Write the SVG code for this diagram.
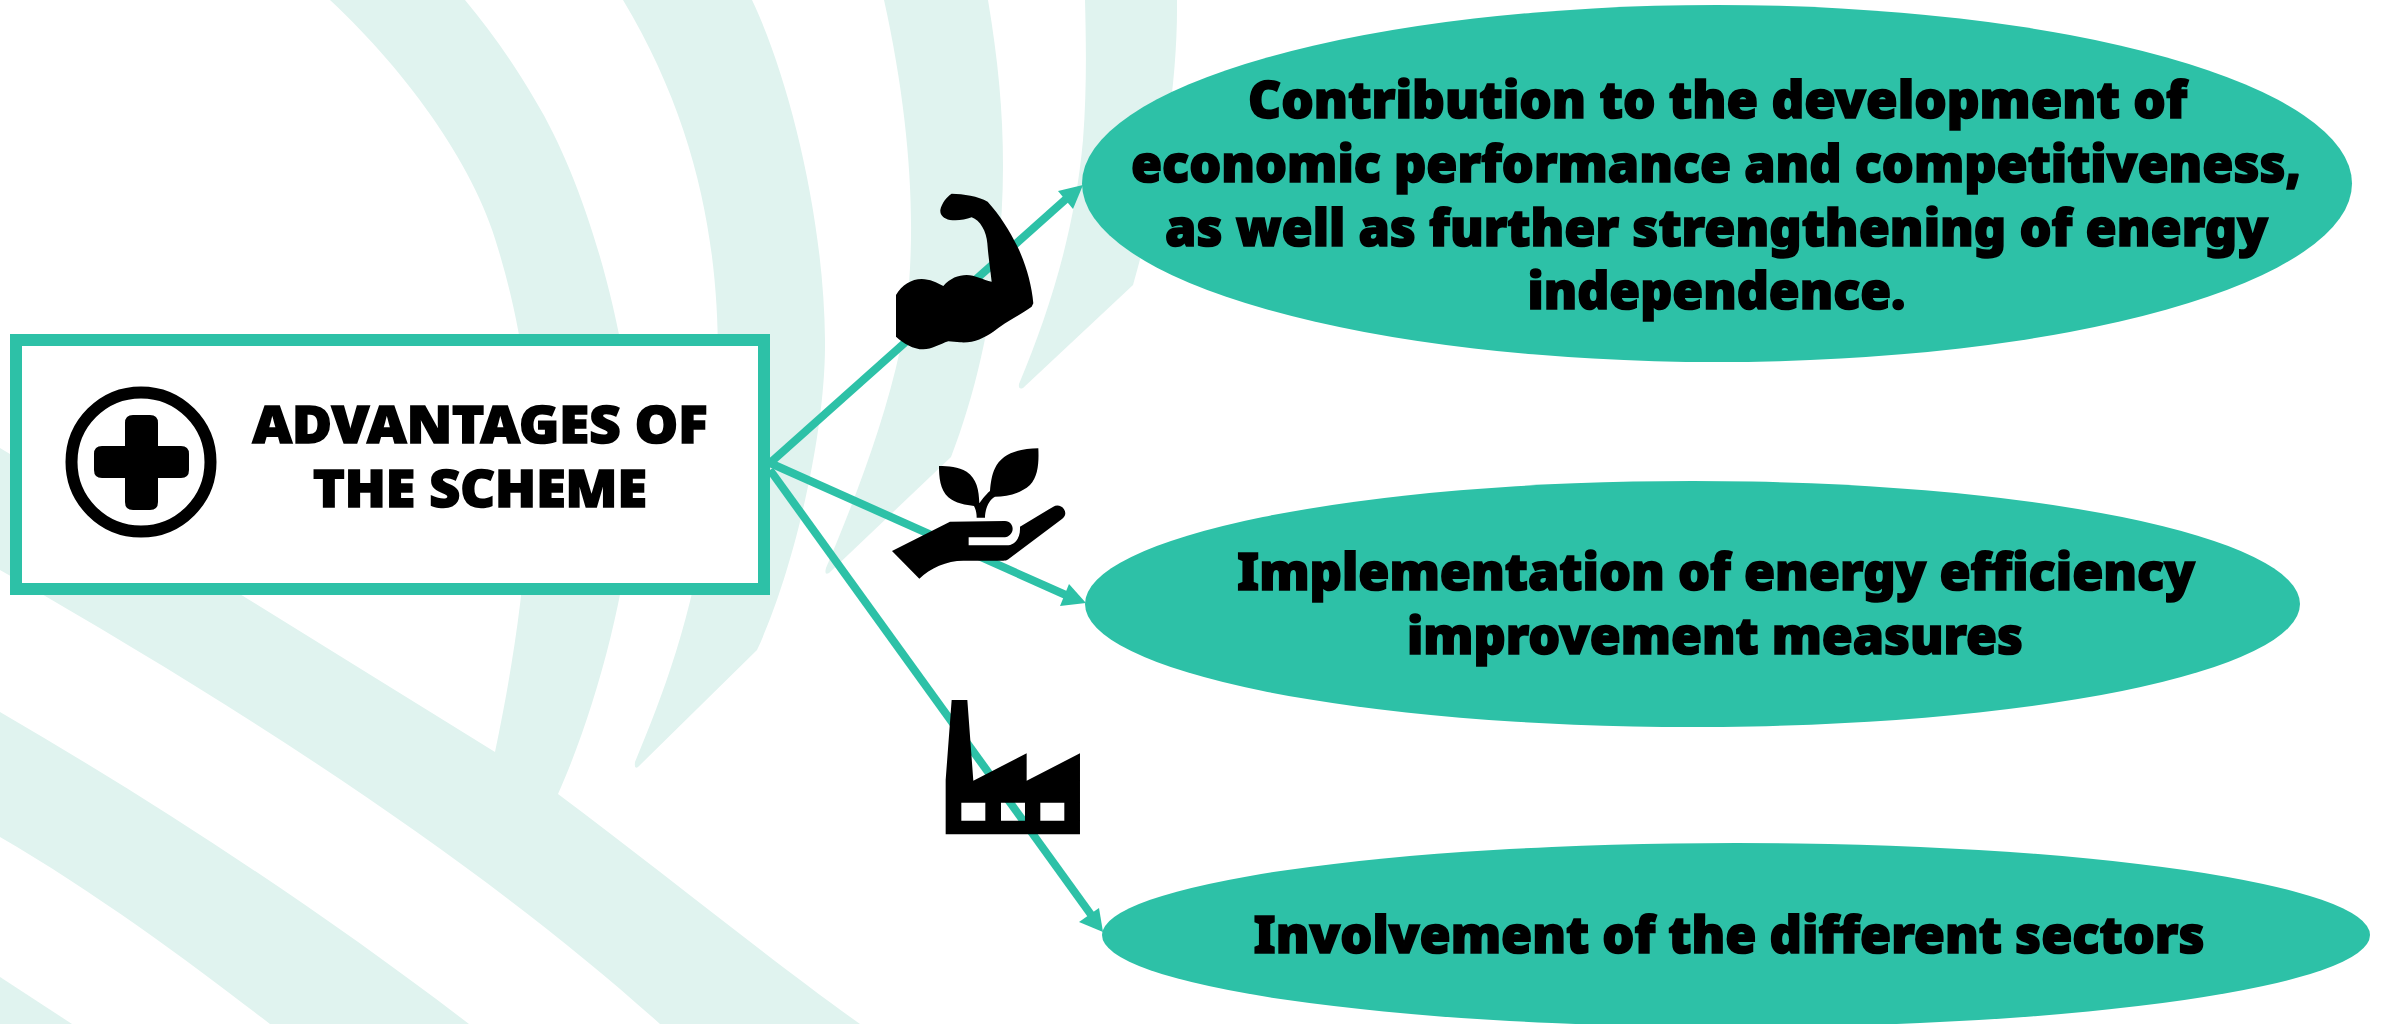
<svg xmlns="http://www.w3.org/2000/svg" width="2384" height="1024" viewBox="0 0 2384 1024">
<style>
.bg{fill:#e0f3ef}
.oval{fill:#2dc1a7}
.link{stroke:#2dc1a7;stroke-width:8;fill:none}
.head{fill:#2dc1a7}
.t{font-family:"Noto Sans","Open Sans","Liberation Sans",sans-serif;font-weight:900;font-size:52px;fill:#000;stroke:#000;stroke-width:1.6;text-anchor:middle}
.icon{fill:#000;fill-rule:evenodd}
</style>
<rect width="2384" height="1024" fill="#fff"/>
<g id="background">
<path class="bg" d="M0 448 C170 550 330 650 495 752 C510 680 526 590 530 480 C533 420 525 340 500 255 C478 170 410 75 330 0 L465 0 C490 30 515 65 535 100 C590 190 632 350 634 460 C636 560 600 700 558 794 C660 870 770 960 860 1024 L660 1024 C500 880 280 730 0 570 Z"/>
<path class="bg" d="M0 712 C160 805 320 910 469 1024 L270 1024 C200 970 100 895 0 837 Z"/>
<path class="bg" d="M0 977 L72 1024 L0 1024 Z"/>
<path class="bg" d="M623 0 L752 0 C790 80 824 220 825 340 C826 440 790 580 757 650 L638 767 Q634 770 635 762 C665 690 700 600 712 470 C725 330 725 170 623 0 Z"/>
<path class="bg" d="M884 0 L988 0 C998 60 1003 110 1003 167 C1003 260 985 370 951 457 L829 573 Q824 576 826 568 C855 500 885 420 900 350 C918 260 915 140 884 0 Z"/>
<path class="bg" d="M1085 0 L1177 0 C1178 90 1160 190 1133 285 L1023 388 Q1018 390 1019 384 C1050 310 1075 230 1083 140 C1087 90 1086 40 1085 0 Z"/>
</g>
<g id="connectors">
<path class="link" d="M770 463 L1066 199"/>
<path class="head" d="M1083 185 L1058 191 L1073 209 Z"/>
<path class="link" d="M770 463 L1068 596"/>
<path class="head" d="M1086 603 L1069 584 L1060 606 Z"/>
<path class="link" d="M770 470 L1092 916"/>
<path class="head" d="M1103 932 L1079 922 L1099 908 Z"/>
</g>
<g id="advantages">
<path fill="#fff" d="M16 340H764V589H16Z"/>
<path fill="#2dc1a7" fill-rule="evenodd" d="M10 334H770V595H10Z M22 346V583H758V346Z"/>
<circle cx="141" cy="462" r="69.5" fill="#fff" stroke="#000" stroke-width="12"/>
<path class="icon" d="M133 415H150Q158 415 158 423V446H181Q189 446 189 454V470Q189 478 181 478H158V502Q158 510 150 510H133Q125 510 125 502V478H102Q94 478 94 470V454Q94 446 102 446H125V423Q125 415 133 415Z"/>
<text class="t" x="480" y="443" textLength="455" lengthAdjust="spacingAndGlyphs">ADVANTAGES OF</text>
<text class="t" x="480" y="507" textLength="334" lengthAdjust="spacingAndGlyphs">THE SCHEME</text>
</g>
<g id="icon-muscle" transform="translate(860 160) scale(.3333)">
<path class="icon" d="M108 405 C125 375 155 357 185 357 C210 357 230 368 250 378 C270 355 295 345 320 345 C345 345 370 360 395 365 C390 320 385 290 382 250 C380 215 360 180 335 172 C315 180 290 183 270 180 C250 175 240 165 241 150 C245 130 260 110 275 101 C310 102 355 108 383 125 C420 165 450 215 470 255 C495 305 515 370 520 430 L515 440 C480 465 430 490 400 515 C370 535 340 550 300 547 L265 544 C240 552 215 568 190 568 C160 568 130 550 108 530 Z"/>
</g>
<g id="icon-plant" transform="translate(860 420) scale(.3333)">
<path class="icon" d="M96 393 L270 305 L435 303 C450 303 458 315 458 326 C458 340 447 350 435 352 L326 352 L326 376 L440 376 C465 376 482 355 480 320 L580 260 C590 254 605 256 612 268 C620 280 615 290 605 298 L445 418 C440 422 435 422 430 422 L310 422 C260 422 210 445 178 476 Z"/>
<path class="icon" d="M535 85 C480 85 425 100 405 145 C395 165 392 190 390 213 C375 225 362 245 358 250 C357 210 350 175 320 155 C295 140 265 138 237 138 C237 170 240 210 265 232 C285 250 320 256 342 258 C348 270 350 280 350 293 L375 293 C375 270 385 240 405 230 C440 230 480 222 510 195 C535 170 537 125 535 85 Z"/>
</g>
<g id="icon-factory" transform="translate(920 680) scale(.3333)">
<path class="icon" d="M95 60 L142 60 L160 302 L320 220 L320 302 L480 220 L480 463 L77 463 L77 300 Z M124 368V422H196V368Z M243 368V422H315V368Z M361 368V422H433V368Z"/>
</g>
<g id="benefit-competitiveness">
<ellipse class="oval" cx="1717" cy="183.5" rx="635" ry="178.5"/>
<text class="t" x="1717.5" y="118" textLength="939" lengthAdjust="spacingAndGlyphs">Contribution to the development of</text>
<text class="t" x="1716" y="182" textLength="1170" lengthAdjust="spacingAndGlyphs">economic performance and competitiveness,</text>
<text class="t" x="1716.5" y="246" textLength="1103" lengthAdjust="spacingAndGlyphs">as well as further strengthening of energy</text>
<text class="t" x="1716.5" y="309" textLength="378" lengthAdjust="spacingAndGlyphs">independence.</text>
</g>
<g id="benefit-efficiency">
<ellipse class="oval" cx="1692.5" cy="604" rx="607.5" ry="123"/>
<text class="t" x="1716" y="590" textLength="958" lengthAdjust="spacingAndGlyphs">Implementation of energy efficiency</text>
<text class="t" x="1715" y="654" textLength="616" lengthAdjust="spacingAndGlyphs">improvement measures</text>
</g>
<g id="benefit-sectors">
<ellipse class="oval" cx="1736" cy="935" rx="634" ry="92"/>
<text class="t" x="1729" y="953" textLength="951" lengthAdjust="spacingAndGlyphs">Involvement of the different sectors</text>
</g>
</svg>
